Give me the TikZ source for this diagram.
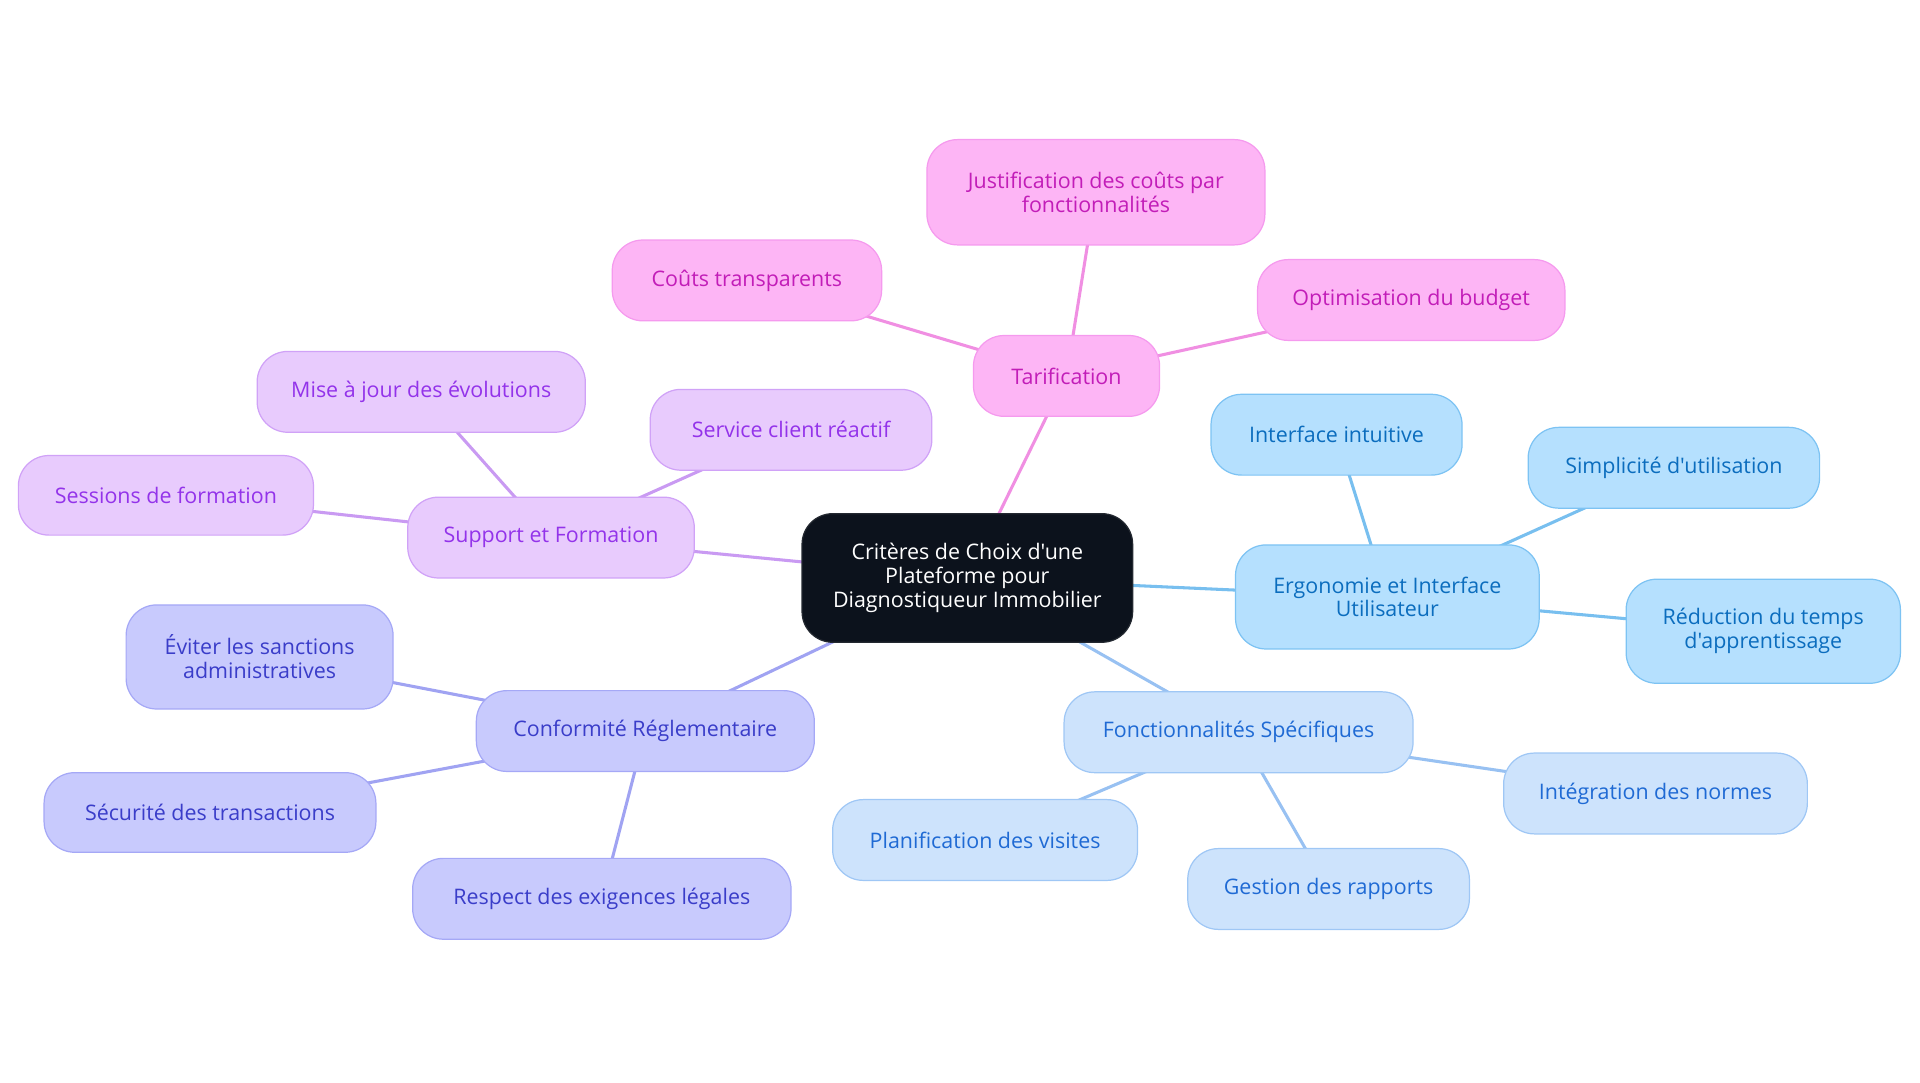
\documentclass[tikz,border=0pt]{standalone}
\usepackage{fontspec}
\setmainfont{Open Sans}[Ligatures=TeXOff]
\usetikzlibrary{backgrounds}
\definecolor{pkfill}{HTML}{FDB5F5}\definecolor{pkdraw}{HTML}{F59AEE}\definecolor{pktext}{HTML}{C21DB8}\definecolor{pkedge}{HTML}{F08FE2}
\definecolor{pufill}{HTML}{E8CBFD}\definecolor{pudraw}{HTML}{D0A2F7}\definecolor{putext}{HTML}{9333EA}\definecolor{puedge}{HTML}{C99AF2}
\definecolor{infill}{HTML}{C8CAFD}\definecolor{indraw}{HTML}{A5A8F6}\definecolor{intext}{HTML}{3A3DC9}\definecolor{inedge}{HTML}{A0A3F2}
\definecolor{lbfill}{HTML}{B5E0FE}\definecolor{lbdraw}{HTML}{7DC3F3}\definecolor{lbtext}{HTML}{0B6DBE}\definecolor{lbedge}{HTML}{78BFEF}
\definecolor{blfill}{HTML}{CDE3FC}\definecolor{bldraw}{HTML}{9FC7F5}\definecolor{bltext}{HTML}{1F6AD4}\definecolor{bledge}{HTML}{98C1F2}
\definecolor{ctfill}{HTML}{0C121C}
\tikzset{
  mbox/.style={rectangle, rounded corners=25pt, line width=1pt, align=center, inner sep=0pt,
    font=\fontsize{17.5}{19.5}\selectfont},
  brpk/.style={mbox, fill=pkfill, draw=pkdraw, text=pktext},
  brpu/.style={mbox, fill=pufill, draw=pudraw, text=putext},
  brin/.style={mbox, fill=infill, draw=indraw, text=intext},
  brlb/.style={mbox, fill=lbfill, draw=lbdraw, text=lbtext},
  brbl/.style={mbox, fill=blfill, draw=bldraw, text=bltext},
  brct/.style={mbox, fill=ctfill, draw=ctfill!80!gray, text=white},
  sz/.style 2 args={minimum width=#1pt, minimum height=#2pt},
  conn/.style={line width=2.5pt}
}
\begin{document}
\begin{tikzpicture}[x=1pt,y=-1pt]
\useasboundingbox (0,0) rectangle (1568,884.4);
% center
\node[brct, sz={270}{105}] (c) at (790,472) {Critères de Choix d'une\\Plateforme pour\\Diagnostiqueur Immobilier};
% pink
\node[brpk, sz={152}{66}] (tar) at (871,307) {Tarification};
\node[brpk, sz={276}{86}] (jus) at (895,157) {Justification des coûts par\\fonctionnalités};
\node[brpk, sz={220}{66}] (cou) at (610,229) {Coûts transparents};
\node[brpk, sz={251}{66}] (opt) at (1152.5,245) {Optimisation du budget};
% purple
\node[brpu, sz={234}{66}] (sup) at (450,439) {Support et Formation};
\node[brpu, sz={268}{66}] (mis) at (344,320) {Mise à jour des évolutions};
\node[brpu, sz={230}{66}] (ser) at (646,351) {Service client réactif};
\node[brpu, sz={241}{65}] (ses) at (135.5,404.5) {Sessions de formation};
% indigo
\node[brin, sz={276}{66}] (con) at (527,597) {Conformité Réglementaire};
\node[brin, sz={218}{85}] (evi) at (212,536.5) {Éviter les sanctions\\administratives};
\node[brin, sz={271}{65}] (sec) at (171.5,663.5) {Sécurité des transactions};
\node[brin, sz={309}{66}] (res) at (491.5,734) {Respect des exigences légales};
% light blue
\node[brlb, sz={248}{85}] (erg) at (1133,487.5) {Ergonomie et Interface\\Utilisateur};
\node[brlb, sz={205}{66}] (int) at (1091.5,355) {Interface intuitive};
\node[brlb, sz={238}{66}] (sim) at (1367,382) {Simplicité d'utilisation};
\node[brlb, sz={224}{85}] (red) at (1440,515.5) {Réduction du temps\\d'apprentissage};
% blue
\node[brbl, sz={285}{66}] (fon) at (1011.5,598) {Fonctionnalités Spécifiques};
\node[brbl, sz={249}{66}] (pla) at (804.5,686) {Planification des visites};
\node[brbl, sz={230}{66}] (ges) at (1085,726) {Gestion des rapports};
\node[brbl, sz={248}{66}] (ing) at (1352,648) {Intégration des normes};
\begin{pgfonlayer}{background}
\draw[conn, pkedge] (c.center) -- (tar.center);
\draw[conn, pkedge] (tar.center) -- (jus.center);
\draw[conn, pkedge] (tar.center) -- (cou.center);
\draw[conn, pkedge] (tar.center) -- (opt.center);
\draw[conn, puedge] (c.center) -- (sup.center);
\draw[conn, puedge] (sup.center) -- (mis.center);
\draw[conn, puedge] (sup.center) -- (ser.center);
\draw[conn, puedge] (sup.center) -- (ses.center);
\draw[conn, inedge] (c.center) -- (con.center);
\draw[conn, inedge] (con.center) -- (evi.center);
\draw[conn, inedge] (con.center) -- (sec.center);
\draw[conn, inedge] (con.center) -- (res.center);
\draw[conn, lbedge] (c.center) -- (erg.center);
\draw[conn, lbedge] (erg.center) -- (int.center);
\draw[conn, lbedge] (erg.center) -- (sim.center);
\draw[conn, lbedge] (erg.center) -- (red.center);
\draw[conn, bledge] (c.center) -- (fon.center);
\draw[conn, bledge] (fon.center) -- (pla.center);
\draw[conn, bledge] (fon.center) -- (ges.center);
\draw[conn, bledge] (fon.center) -- (ing.center);
\end{pgfonlayer}
\end{tikzpicture}
\end{document}
